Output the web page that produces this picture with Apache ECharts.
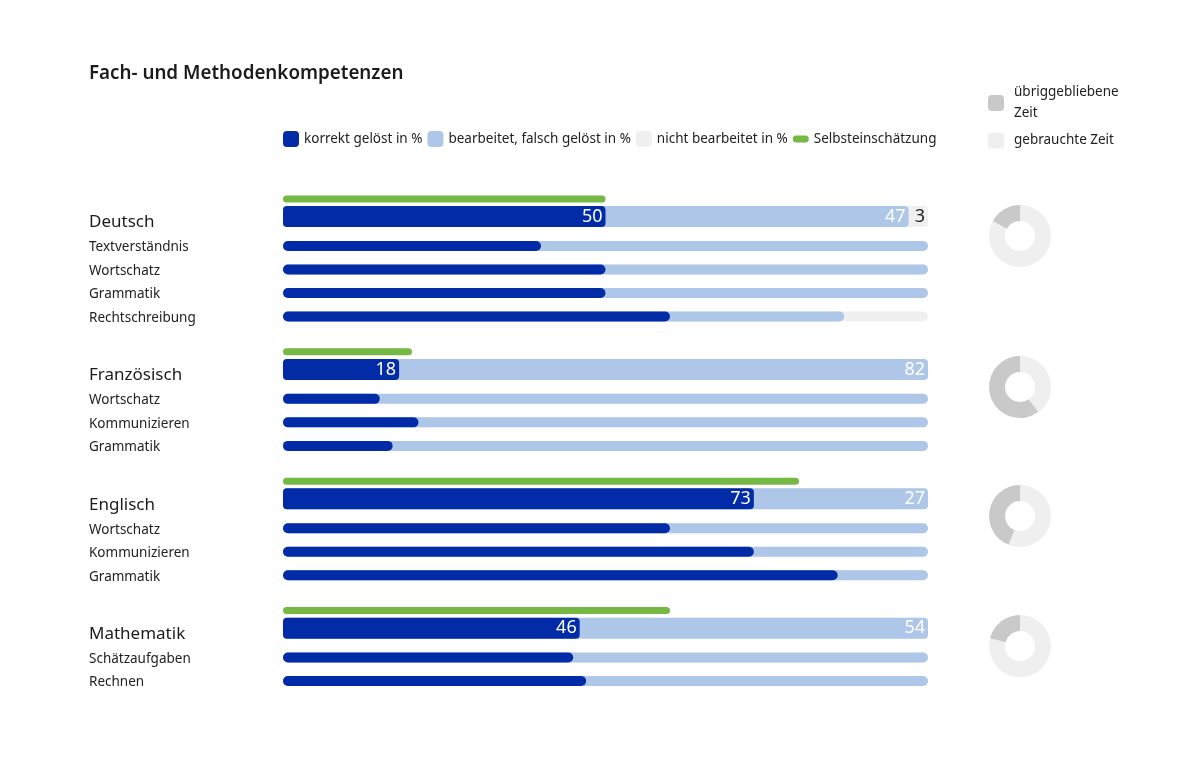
<!DOCTYPE html>
<html>
<head>
<meta charset="utf-8">
<script src="https://cdn.jsdelivr.net/npm/echarts@6/dist/echarts.min.js"></script>
<style>
html,body{margin:0;padding:0;background:#fff;}
#chart{width:1200px;height:758px;}
</style>
</head>
<body>
<div id="chart"></div>
<script>
// ---- data ----
const subjects = ['Deutsch', 'Französisch', 'Englisch', 'Mathematik'];
const subjCorrect = [50, 18, 73, 46];
const subjWrong = [47, 82, 27, 54];
const subjNotDone = [3, 0, 0, 0];
const selfAssessment = [50, 20, 80, 60];
const usedTime = [83, 40, 56, 79];
const remainingTime = [17, 60, 44, 21];
const skillNames = [
  ['Textverständnis', 'Wortschatz', 'Grammatik', 'Rechtschreibung'],
  ['Wortschatz', 'Kommunizieren', 'Grammatik'],
  ['Wortschatz', 'Kommunizieren', 'Grammatik'],
  ['Schätzaufgaben', 'Rechnen']
];
const skillCorrect = [[40, 50, 50, 60], [15, 21, 17], [60, 73, 86], [45, 47]];
const skillWrong = [[60, 50, 50, 27], [85, 79, 83], [40, 27, 14], [55, 53]];
const legendNames = ['korrekt gelöst in %', 'bearbeitet, falsch gelöst in %', 'nicht bearbeitet in %', 'Selbsteinschätzung'];
const timeNames = ['übriggebliebene Zeit', 'gebrauchte Zeit'];

// ---- colours ----
const C_DARK = '#022ca7';
const C_LIGHT = '#aec7e9';
const C_GRAY = '#f0f0f0';
const C_GREEN = '#75b843';
const C_PIE_REM = '#c9c9c9';
const C_PIE_USED = '#efefef';
const FONT = '"Noto Sans", sans-serif';

// ---- build row slots (category axis) ----
const cats = [];
const labelMap = {};
const rows = { green: {}, main: {}, sub: {} };
function addSlot() { cats.push('r' + cats.length); return cats.length - 1; }
subjects.forEach((s, si) => {
  if (si > 0) { for (let k = 0; k < 5; k++) addSlot(); }
  const g = addSlot(); rows.green[g] = si;
  addSlot(); addSlot();
  const m = addSlot(); rows.main[m] = si; labelMap[m] = { text: s, big: true };
  skillNames[si].forEach((sk, ki) => {
    const gap = ki === 0 ? 4 : 3;
    for (let k = 0; k < gap; k++) addSlot();
    const r = addSlot(); rows.sub[r] = [si, ki]; labelMap[r] = { text: sk, big: false };
  });
});

function arr(fn) { return cats.map((c, i) => fn(i)); }

const greenData = arr(i => rows.green[i] !== undefined ? selfAssessment[rows.green[i]] : '-');
const mainGray = arr(i => {
  if (rows.main[i] === undefined) return '-';
  const si = rows.main[i];
  const total = subjCorrect[si] + subjWrong[si] + subjNotDone[si];
  return subjNotDone[si] > 0
    ? { value: total, label: { show: true, formatter: String(subjNotDone[si]) } }
    : total;
});
const mainLight = arr(i => {
  if (rows.main[i] === undefined) return '-';
  const si = rows.main[i];
  return { value: subjCorrect[si] + subjWrong[si], label: { formatter: String(subjWrong[si]) } };
});
const mainDark = arr(i => rows.main[i] !== undefined ? subjCorrect[rows.main[i]] : '-');
const subGray = arr(i => rows.sub[i] !== undefined ? 100 : '-');
const subLight = arr(i => {
  if (rows.sub[i] === undefined) return '-';
  const [si, ki] = rows.sub[i];
  return skillCorrect[si][ki] + skillWrong[si][ki];
});
const subDark = arr(i => {
  if (rows.sub[i] === undefined) return '-';
  const [si, ki] = rows.sub[i];
  return skillCorrect[si][ki];
});

const chart = echarts.init(document.getElementById('chart'), null, { renderer: 'canvas' });

const yBase = { type: 'category', data: cats, inverse: true, gridIndex: 0,
  axisLine: { show: false }, axisTick: { show: false }, splitLine: { show: false } };

const pieCenters = [[1020, 236], [1020, 387], [1020, 516], [1020, 646]];

const option = {
  animation: false,
  backgroundColor: '#ffffff',
  textStyle: { fontFamily: FONT },
  title: {
    text: 'Fach- und Methodenkompetenzen',
    left: 84, top: 59,
    textStyle: { fontFamily: FONT, fontSize: 18.8, fontWeight: 600, color: '#1b1b1b' }
  },
  legend: [
    {
      left: 283, top: 131, padding: 0, itemWidth: 16, itemHeight: 16, itemGap: 5,
      textStyle: { fontFamily: FONT, fontSize: 13.5, color: '#222' },
      selectedMode: false,
      data: [
        { name: legendNames[0], icon: 'roundRect' },
        { name: legendNames[1], icon: 'roundRect' },
        { name: legendNames[2], icon: 'roundRect' },
        { name: legendNames[3], icon: 'path://M3.5,0 H12.5 A3.5,3.5 0 0 1 12.5,7 H3.5 A3.5,3.5 0 0 1 3.5,0 Z' }
      ]
    },
    {
      left: 988, top: 82, padding: 0, orient: 'vertical', itemWidth: 16, itemHeight: 16, itemGap: 6,
      textStyle: { fontFamily: FONT, fontSize: 13.5, color: '#222', lineHeight: 21, padding: [0, 0, 0, 5] },
      selectedMode: false,
      formatter: n => n === timeNames[0] ? 'übriggebliebene\nZeit' : n,
      data: [
        { name: timeNames[0], icon: 'roundRect' },
        { name: timeNames[1], icon: 'roundRect' }
      ]
    }
  ],
  grid: { left: 283, right: 272, top: 196, height: 488, containLabel: false },
  xAxis: { type: 'value', min: 0, max: 100, show: false },
  yAxis: [
    Object.assign({}, yBase, {
      axisLabel: {
        interval: 0, align: 'left', margin: 194,
        formatter: (v, i) => {
          const l = labelMap[i];
          if (!l) return '';
          return l.big ? '{h|' + l.text + '}' : '{s|' + l.text + '}';
        },
        rich: {
          h: { fontFamily: FONT, fontSize: 17, color: '#1b1b1b', padding: [12, 0, 0, 0] },
          s: { fontFamily: FONT, fontSize: 13.5, color: '#222', padding: [3, 0, 0, 0] }
        }
      }
    }),
    Object.assign({}, yBase, { show: false }),
    Object.assign({}, yBase, { show: false })
  ],
  series: [
    // self assessment
    { name: legendNames[3], type: 'bar', yAxisIndex: 0, barWidth: 7, clip: false, silent: true,
      itemStyle: { color: C_GREEN, borderRadius: 4 }, data: greenData },
    // main rows
    { name: legendNames[2], type: 'bar', yAxisIndex: 1, barWidth: 21, barGap: '-100%', clip: false, silent: true,
      itemStyle: { color: C_GRAY, borderRadius: 4 },
      label: { show: false, position: 'insideRight', distance: 3, color: '#222', fontFamily: FONT, fontSize: 18 },
      data: mainGray },
    { name: legendNames[1], type: 'bar', yAxisIndex: 1, barWidth: 21, barGap: '-100%', clip: false, silent: true,
      itemStyle: { color: C_LIGHT, borderRadius: 4 },
      label: { show: true, position: 'insideRight', distance: 3, color: '#fff', fontFamily: FONT, fontSize: 18 },
      data: mainLight },
    { name: legendNames[0], type: 'bar', yAxisIndex: 1, barWidth: 21, barGap: '-100%', clip: false, silent: true,
      itemStyle: { color: C_DARK, borderRadius: 4 },
      label: { show: true, position: 'insideRight', distance: 3, color: '#fff', fontFamily: FONT, fontSize: 18 },
      data: mainDark },
    // sub rows
    { name: legendNames[2], type: 'bar', yAxisIndex: 2, barWidth: 10, barGap: '-100%', clip: false, silent: true,
      itemStyle: { color: C_GRAY, borderRadius: 5 }, data: subGray },
    { name: legendNames[1], type: 'bar', yAxisIndex: 2, barWidth: 10, barGap: '-100%', clip: false, silent: true,
      itemStyle: { color: C_LIGHT, borderRadius: 5 }, data: subLight },
    { name: legendNames[0], type: 'bar', yAxisIndex: 2, barWidth: 10, barGap: '-100%', clip: false, silent: true,
      itemStyle: { color: C_DARK, borderRadius: 5 }, data: subDark }
  ].concat(subjects.map((s, si) => ({
    type: 'pie', radius: [15, 31], center: pieCenters[si], startAngle: 90, clockwise: true,
    silent: true, label: { show: false }, labelLine: { show: false },
    emphasis: { disabled: true },
    data: [
      { name: timeNames[1], value: usedTime[si], itemStyle: { color: C_PIE_USED } },
      { name: timeNames[0], value: remainingTime[si], itemStyle: { color: C_PIE_REM } }
    ]
  })))
};

chart.setOption(option);
</script>
</body>
</html>
